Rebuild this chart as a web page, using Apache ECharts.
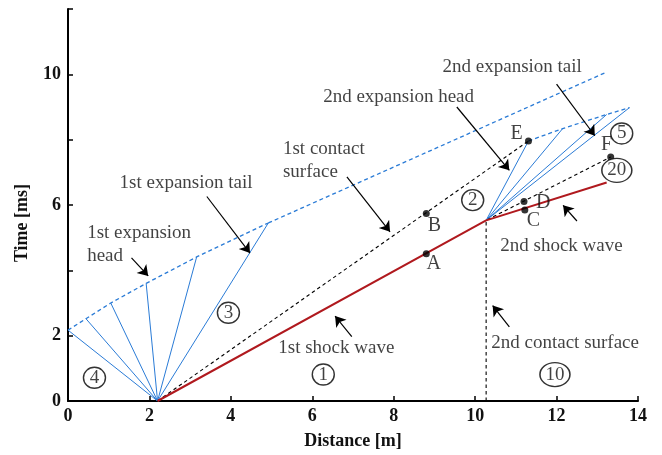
<!DOCTYPE html>
<html><head><meta charset="utf-8">
<script src="https://cdn.jsdelivr.net/npm/echarts@6/dist/echarts.min.js"></script>
<style>html,body{margin:0;padding:0;background:#fff}#c{width:662px;height:455px}</style>
</head><body><div id="c"></div>
<script>
// ---- data (distance [m], time [ms]) ----
const xTicks = [0, 2, 4, 6, 8, 10, 12, 14];
const yTickLabels = [0, 2, 6, 10];
const shock = [[2.2, 0], [10.27, 5.53], [13.23, 6.69]];
const contact1 = [[2.2, 0], [11.31, 7.96]];
const contact2 = [[10.27, 0], [10.27, 5.53], [13.33, 7.47]];
const fan1Origin = [2.2, 0];
const head1 = [[0, 2.17], [0.44, 2.52], [1.05, 3.0], [1.92, 3.6], [3.16, 4.41], [4.92, 5.45]];
const head1Ext = [[4.92, 5.45], [13.23, 10.07]];
const fan2Origin = [10.27, 5.53];
const head2 = [[11.31, 7.96], [12.15, 8.34], [13.23, 8.77], [13.79, 8.98]];
const pointNames = ['A', 'B', 'C', 'D', 'E', 'F'];
const pointXY = [[8.8, 4.51], [8.8, 5.74], [11.22, 5.85], [11.2, 6.11], [11.31, 7.96], [13.33, 7.47]];
const pointLabelXY = [[8.98, 4.19], [9.0, 5.38], [11.43, 5.53], [11.67, 6.08], [11.02, 8.19], [13.23, 7.84]];
const regionNames = ['1', '2', '3', '4', '5', '10', '20'];
const regionXY = [[6.27, 0.81], [9.94, 6.15], [3.94, 2.70], [0.65, 0.71], [13.6, 8.19], [11.96, 0.81], [13.48, 7.06]];
const noteTexts = ['2nd expansion tail', '2nd expansion head', '1st contact\nsurface', '1st expansion tail',
  '1st expansion\nhead', '1st shock wave', '2nd contact surface', '2nd shock wave'];
const noteXY = [[10.91, 10.21], [8.12, 9.31], [5.28, 7.36], [2.90, 6.66], [0.47, 4.79], [6.59, 1.63], [12.21, 1.78], [12.12, 4.73]];
const noteLeft = [false, false, true, false, true, false, false, false];
const arrows = [
  [[12.00, 9.70], [12.94, 8.12]],
  [[9.55, 9.00], [10.84, 7.06]],
  [[6.85, 6.86], [7.91, 5.18]],
  [[3.41, 6.26], [4.47, 4.53]],
  [[1.56, 4.38], [1.97, 3.83]],
  [[6.97, 1.97], [6.56, 2.60]],
  [[10.84, 2.27], [10.43, 2.92]],
  [[12.50, 5.51], [12.16, 5.99]]
];

const FONT = 'Liberation Serif';
const RED = '#b0191e', BLUE = '#2a7bd6';
const series = [];
function line(data, color, width, type, z) {
  series.push({ type: 'line', data: data, symbol: 'none', silent: true, z: z || 2,
    lineStyle: { color: color, width: width, type: type || 'solid' } });
}
head1.forEach(p => line([fan1Origin, p], BLUE, 1));
head2.forEach(p => line([fan2Origin, p], BLUE, 1));
line(head1, BLUE, 1.3, [4, 3]);
line(head1Ext, BLUE, 1.3, [4, 3]);
line(head2, BLUE, 1.3, [4, 3]);
line(contact1, '#000', 1.1, [3.5, 3]);
line(contact2, '#000', 1.1, [3.5, 3]);
line(shock, RED, 2, 'solid', 3);

series.push({ type: 'lines', coordinateSystem: 'cartesian2d', z: 4, silent: true,
  symbol: ['none', 'arrow'], symbolSize: [1, 10],
  lineStyle: { color: '#000', width: 1.2, opacity: 1 }, itemStyle: { color: '#000' },
  data: arrows.map(a => ({ coords: a })) });

series.push({ type: 'scatter', z: 5, silent: true, symbol: 'circle', symbolSize: 7,
  itemStyle: { color: '#000' }, data: pointXY });
series.push({ type: 'scatter', z: 5, silent: true, symbolSize: 0,
  label: { show: true, position: 'inside', formatter: '{b}', color: '#111', fontFamily: FONT, fontSize: 20 },
  data: pointNames.map((n, i) => ({ name: n, value: pointLabelXY[i] })) });
series.push({ type: 'scatter', z: 5, silent: true, symbol: 'circle',
  itemStyle: { color: '#fff', borderColor: '#000', borderWidth: 1.4 },
  label: { show: true, position: 'inside', formatter: '{b}', color: '#111', fontFamily: FONT, fontSize: 19 },
  data: regionNames.map((n, i) => ({ name: n, value: regionXY[i],
    symbolSize: n.length > 1 ? [30, 24] : [22, 21] })) });
series.push({ type: 'scatter', z: 5, silent: true, symbolSize: 0,
  label: { show: true, position: 'inside', formatter: '{b}', color: '#111', fontFamily: FONT, fontSize: 19, lineHeight: 23 },
  data: noteTexts.map((t, i) => ({ name: t, value: noteXY[i],
    label: noteLeft[i] ? { position: 'right', align: 'left', offset: [-5, 0] } : {} })) });

const chart = echarts.init(document.getElementById('c'), null, { renderer: 'canvas' });
chart.setOption({
  animation: false,
  backgroundColor: '#fff',
  grid: { left: 68, right: 24, top: 9, bottom: 48, containLabel: false },
  xAxis: { type: 'value', min: 0, max: 14, interval: 2,
    name: 'Distance [m]', nameLocation: 'middle', nameGap: 31,
    nameTextStyle: { fontFamily: FONT, fontWeight: 'bold', fontSize: 18, color: '#111' },
    axisLine: { onZero: false, lineStyle: { color: '#000', width: 2 } },
    axisTick: { inside: true, length: 5, lineStyle: { color: '#000', width: 1.5 } },
    axisLabel: { margin: 6, fontFamily: FONT, fontWeight: 'bold', fontSize: 18, color: '#111',
      formatter: v => xTicks.includes(v) ? String(v) : '' },
    splitLine: { show: false } },
  yAxis: { type: 'value', min: 0, max: 12, interval: 2,
    name: 'Time [ms]', nameLocation: 'middle', nameGap: 37, nameRotate: 90,
    nameTextStyle: { fontFamily: FONT, fontWeight: 'bold', fontSize: 18, color: '#111', padding: [0, 36, 0, 0] },
    axisLine: { onZero: false, lineStyle: { color: '#000', width: 2 } },
    axisTick: { inside: true, length: 5, lineStyle: { color: '#000', width: 1.5 } },
    axisLabel: { margin: 7, fontFamily: FONT, fontWeight: 'bold', fontSize: 18, color: '#111',
      formatter: v => yTickLabels.includes(v) ? String(v) : '' },
    splitLine: { show: false } },
  series: series
});
</script></body></html>
